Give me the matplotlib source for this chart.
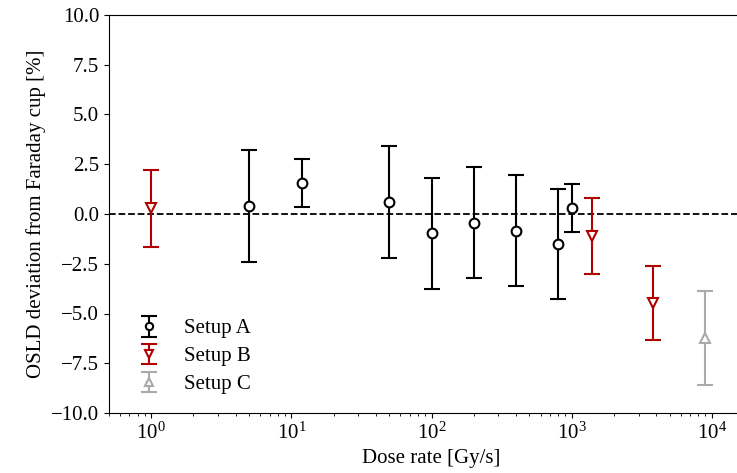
import matplotlib
matplotlib.use("Agg")
import matplotlib.pyplot as plt

plt.rcParams['font.family'] = ['Liberation Serif', 'DejaVu Serif']
plt.rcParams['mathtext.fontset'] = 'custom'
plt.rcParams['mathtext.rm'] = 'Liberation Serif'
plt.rcParams['mathtext.it'] = 'Liberation Serif:italic'
plt.rcParams['font.size'] = 15

# Setup A
dose_a = [5, 12, 50, 100, 200, 400, 800, 1000]
dev_a = [0.42, 1.56, 0.60, -0.97, -0.43, -0.84, -1.52, 0.29]
err_a = [2.81, 1.22, 2.83, 2.80, 2.80, 2.80, 2.77, 1.20]

# Setup B
dose_b = [1, 1400, 3800]
dev_b = [0.29, -1.12, -4.48]
err_b = [1.93, 1.90, 1.85]

# Setup C
dose_c = [9000]
dev_c = [-6.22]
err_c = [2.36]

red = '#b00000'
grey = '#aaaaaa'

fig = plt.figure(figsize=(7.37, 4.73), dpi=100)
ax = fig.add_axes([109/737, 1-413/473, 645/737, 398/473])

ax.axhline(0, color='black', ls='--', lw=1.3, zorder=1)

common = dict(capsize=6, elinewidth=1.5, capthick=1.5, ms=7, mew=1.5, ls='none', mfc='white')
ax.errorbar(dose_a, dev_a, yerr=err_a, fmt='o', color='black', label='Setup A', **common)
ax.errorbar(dose_b, dev_b, yerr=err_b, fmt='v', color=red, label='Setup B', **common)
ax.errorbar(dose_c, dev_c, yerr=err_c, fmt='^', color=grey, label='Setup C', **common)

ax.set_xscale('log')
ax.set_xlim(0.5, 20000)
ax.set_ylim(-10, 10)
ax.set_yticks([-10, -7.5, -5, -2.5, 0, 2.5, 5, 7.5, 10])
ax.set_xlabel('Dose rate [Gy/s]')
ax.set_ylabel('OSLD deviation from Faraday cup [%]')

ax.legend(loc='lower left', frameon=False, handletextpad=0.7, labelspacing=0.4,
          markerscale=0.75)

fig.savefig('out.png', dpi=100)
